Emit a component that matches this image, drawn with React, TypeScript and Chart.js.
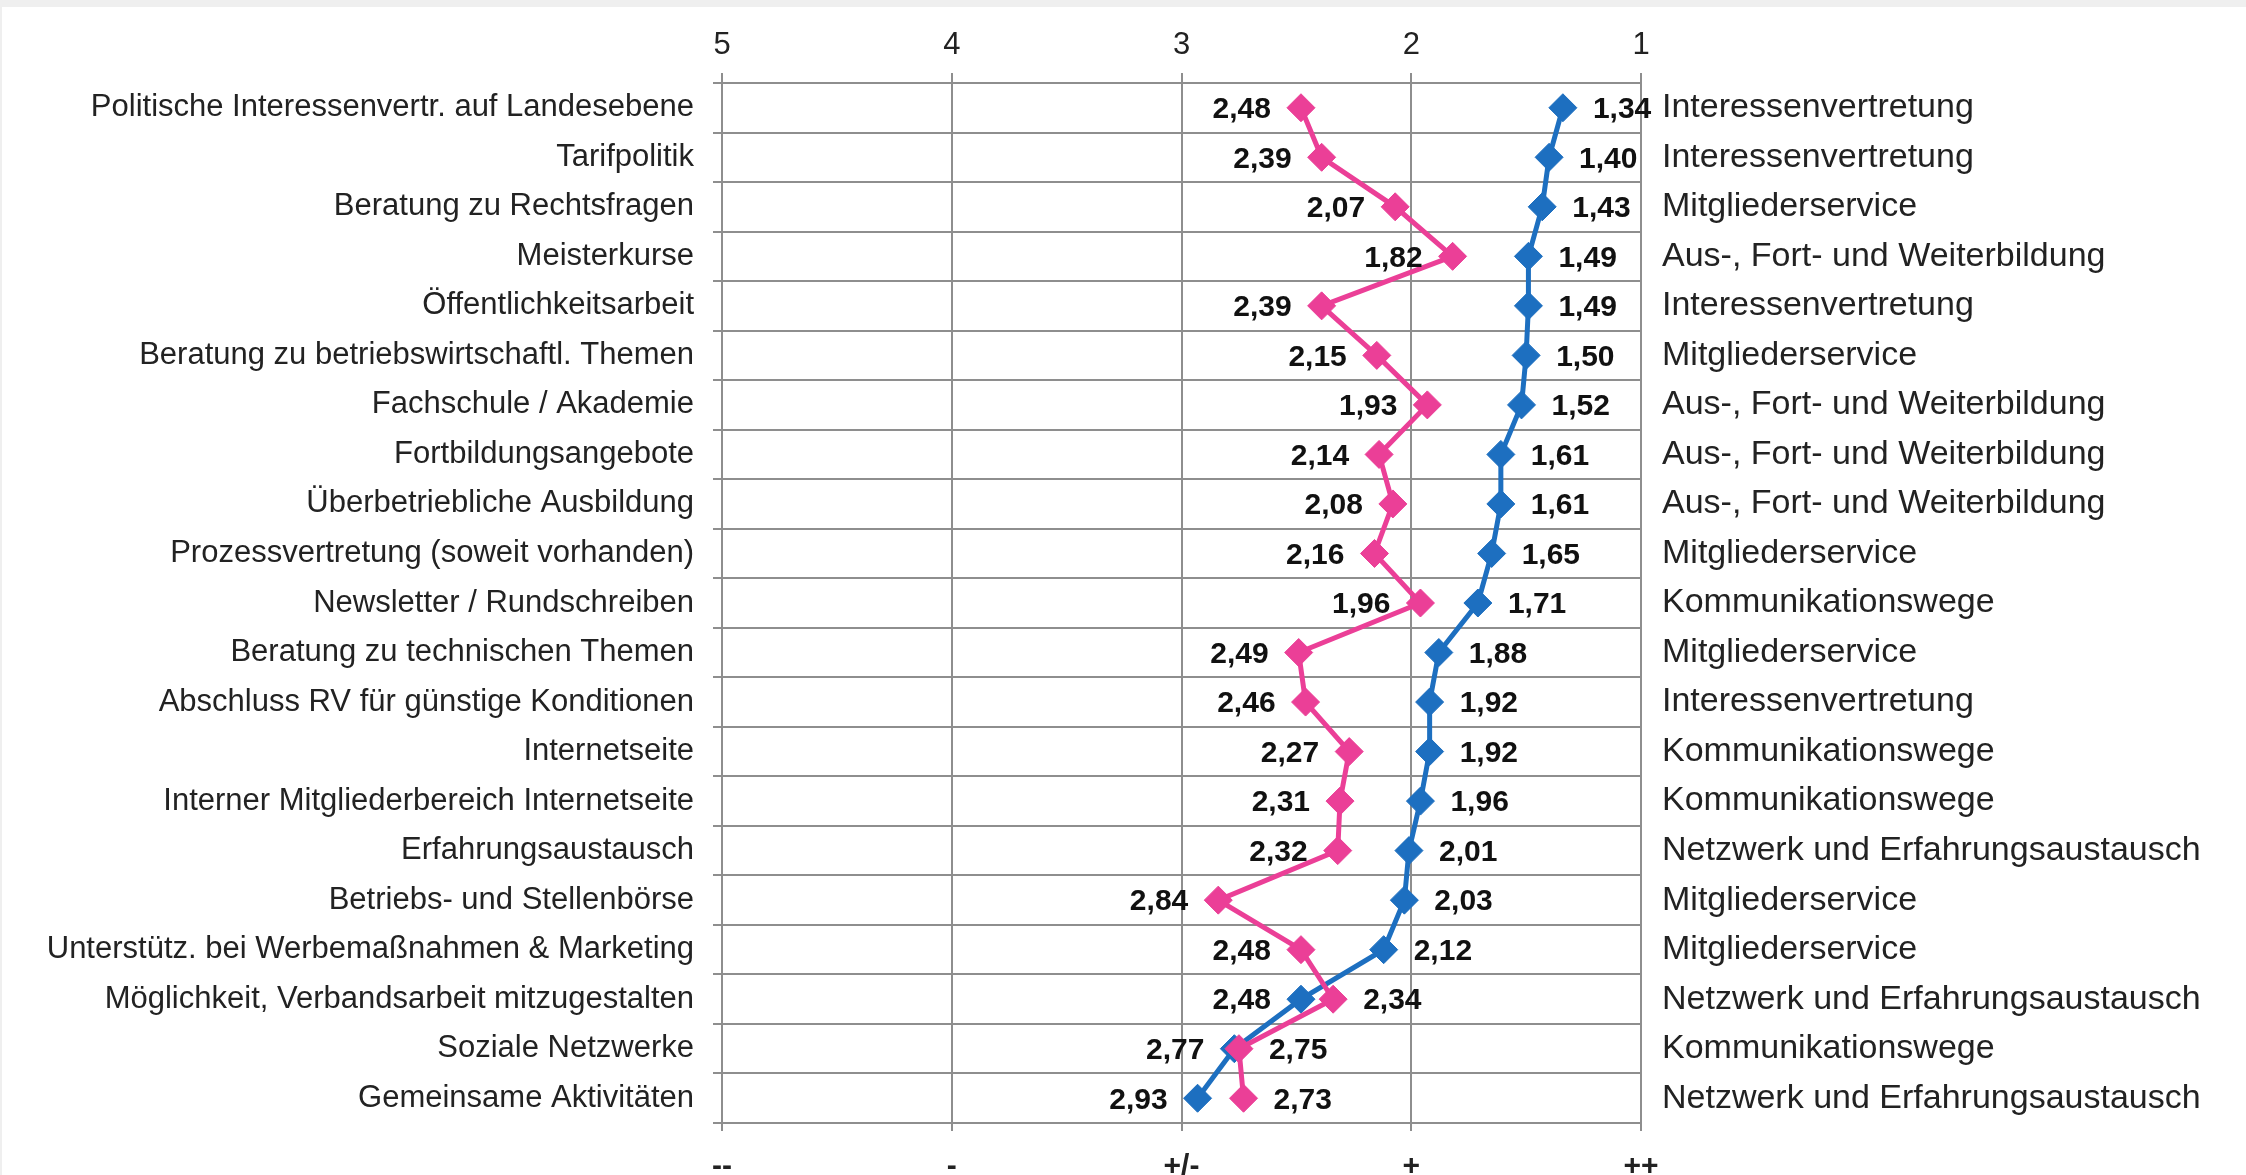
import React, { useEffect, useRef } from "react";
import { Chart, registerables } from "chart.js";

Chart.register(...registerables);

const categories = [
  "Politische Interessenvertr. auf Landesebene",
  "Tarifpolitik",
  "Beratung zu Rechtsfragen",
  "Meisterkurse",
  "Öffentlichkeitsarbeit",
  "Beratung zu betriebswirtschaftl. Themen",
  "Fachschule / Akademie",
  "Fortbildungsangebote",
  "Überbetriebliche Ausbildung",
  "Prozessvertretung (soweit vorhanden)",
  "Newsletter / Rundschreiben",
  "Beratung zu technischen Themen",
  "Abschluss RV für günstige Konditionen",
  "Internetseite",
  "Interner Mitgliederbereich Internetseite",
  "Erfahrungsaustausch",
  "Betriebs- und Stellenbörse",
  "Unterstütz. bei Werbemaßnahmen & Marketing",
  "Möglichkeit, Verbandsarbeit mitzugestalten",
  "Soziale Netzwerke",
  "Gemeinsame Aktivitäten",
];

const groups = [
  "Interessenvertretung",
  "Interessenvertretung",
  "Mitgliederservice",
  "Aus-, Fort- und Weiterbildung",
  "Interessenvertretung",
  "Mitgliederservice",
  "Aus-, Fort- und Weiterbildung",
  "Aus-, Fort- und Weiterbildung",
  "Aus-, Fort- und Weiterbildung",
  "Mitgliederservice",
  "Kommunikationswege",
  "Mitgliederservice",
  "Interessenvertretung",
  "Kommunikationswege",
  "Kommunikationswege",
  "Netzwerk und Erfahrungsaustausch",
  "Mitgliederservice",
  "Mitgliederservice",
  "Netzwerk und Erfahrungsaustausch",
  "Kommunikationswege",
  "Netzwerk und Erfahrungsaustausch",
];

const pinkValues = [
  2.48, 2.39, 2.07, 1.82, 2.39, 2.15, 1.93, 2.14, 2.08, 2.16, 1.96, 2.49, 2.46,
  2.27, 2.31, 2.32, 2.84, 2.48, 2.34, 2.75, 2.73,
];

const blueValues = [
  1.34, 1.4, 1.43, 1.49, 1.49, 1.5, 1.52, 1.61, 1.61, 1.65, 1.71, 1.88, 1.92,
  1.92, 1.96, 2.01, 2.03, 2.12, 2.48, 2.77, 2.93,
];

const scaleTicks = [5, 4, 3, 2, 1];
const ratingLabels = ["--", "-", "+/-", "+", "++"];

const PINK = "#EB3F97";
const BLUE = "#1D6FC0";
const GRID = "#8E8E8E";
const FONT = "'Liberation Sans', Arial, sans-serif";

const fmt = (v: number) => v.toFixed(2).replace(".", ",");

const backgroundPlugin = {
  id: "bgPlugin",
  beforeDraw(chart: any) {
    const { ctx, width, height } = chart;
    ctx.save();
    ctx.fillStyle = "#ffffff";
    ctx.fillRect(0, 0, width, height);
    ctx.fillStyle = "#efefef";
    ctx.fillRect(0, 0, width, 7);
    ctx.fillRect(0, 0, 2, height);
    ctx.restore();
  },
};

const valueLabelPlugin = {
  id: "valueLabels",
  afterDatasetsDraw(chart: any) {
    const { ctx } = chart;
    const pinkMeta = chart.getDatasetMeta(0);
    const blueMeta = chart.getDatasetMeta(1);
    ctx.save();
    ctx.font = `bold 30px ${FONT}`;
    ctx.fillStyle = "#111111";
    ctx.textBaseline = "middle";
    const off = 30;
    for (let i = 0; i < categories.length; i++) {
      const p = pinkMeta.data[i];
      const b = blueMeta.data[i];
      const pinkLeft = pinkValues[i] >= blueValues[i];
      ctx.textAlign = pinkLeft ? "right" : "left";
      ctx.fillText(fmt(pinkValues[i]), p.x + (pinkLeft ? -off : off), p.y + 2);
      ctx.textAlign = pinkLeft ? "left" : "right";
      ctx.fillText(fmt(blueValues[i]), b.x + (pinkLeft ? off : -off), b.y + 2);
    }
    ctx.restore();
  },
};

export default function App() {
  const canvasRef = useRef<HTMLCanvasElement | null>(null);

  useEffect(() => {
    document.body.style.margin = "0";
    const canvas = canvasRef.current;
    if (!canvas) return;
    const common = {
      borderWidth: 5,
      pointStyle: "rectRot",
      pointRadius: 14,
      pointBorderWidth: 1,
      tension: 0,
      xAxisID: "x",
      yAxisID: "y",
      clip: false,
    };
    const chart = new Chart(canvas, {
      type: "line",
      data: {
        labels: categories,
        datasets: [
          {
            label: "pink",
            data: pinkValues,
            borderColor: PINK,
            backgroundColor: PINK,
            pointBackgroundColor: PINK,
            pointBorderColor: PINK,
            ...common,
          },
          {
            label: "blue",
            data: blueValues,
            borderColor: BLUE,
            backgroundColor: BLUE,
            pointBackgroundColor: BLUE,
            pointBorderColor: BLUE,
            ...common,
          },
        ],
      },
      options: {
        indexAxis: "y",
        animation: false,
        responsive: true,
        maintainAspectRatio: false,
        layout: { padding: 0 },
        plugins: {
          legend: { display: false },
          tooltip: { enabled: false },
        },
        scales: {
          x: {
            type: "linear",
            position: "top",
            min: 1,
            max: 5,
            reverse: true,
            afterFit: (s: any) => {
              s.height = 83;
            },
            ticks: {
              stepSize: 1,
              padding: 9,
              color: "#222222",
              font: { family: FONT, size: 31 },
            },
            grid: {
              color: GRID,
              lineWidth: 2,
              tickLength: 10,
            },
            border: { display: false },
          },
          x2: {
            type: "linear",
            position: "bottom",
            min: 1,
            max: 5,
            reverse: true,
            afterFit: (s: any) => {
              s.height = 52;
            },
            ticks: {
              stepSize: 1,
              padding: 18,
              color: "#222222",
              font: { family: FONT, size: 30, weight: "bold" },
              callback: (v: any) => ratingLabels[scaleTicks.indexOf(Number(v))] ?? "",
            },
            grid: {
              color: GRID,
              lineWidth: 2,
              drawOnChartArea: false,
              tickLength: 8,
            },
            border: { display: false },
          },
          y: {
            type: "category",
            position: "left",
            offset: true,
            afterFit: (s: any) => {
              s.width = 722;
            },
            ticks: {
              padding: 19,
              color: "#222222",
              font: { family: FONT, size: 31 },
              autoSkip: false,
            },
            grid: {
              offset: true,
              color: GRID,
              lineWidth: 2,
              tickLength: 9,
            },
            border: { display: false },
          },
          y2: {
            type: "category",
            position: "right",
            labels: groups,
            offset: true,
            afterFit: (s: any) => {
              s.width = 605;
            },
            ticks: {
              padding: 21,
              color: "#222222",
              font: { family: FONT, size: 34 },
              autoSkip: false,
            },
            grid: { display: false, drawTicks: false },
            border: { display: false },
          },
        },
      } as any,
      plugins: [backgroundPlugin, valueLabelPlugin],
    });
    return () => chart.destroy();
  }, []);

  return (
    <div style={{ width: "2246px", height: "1175px", position: "relative" }}>
      <canvas ref={canvasRef} />
    </div>
  );
}
